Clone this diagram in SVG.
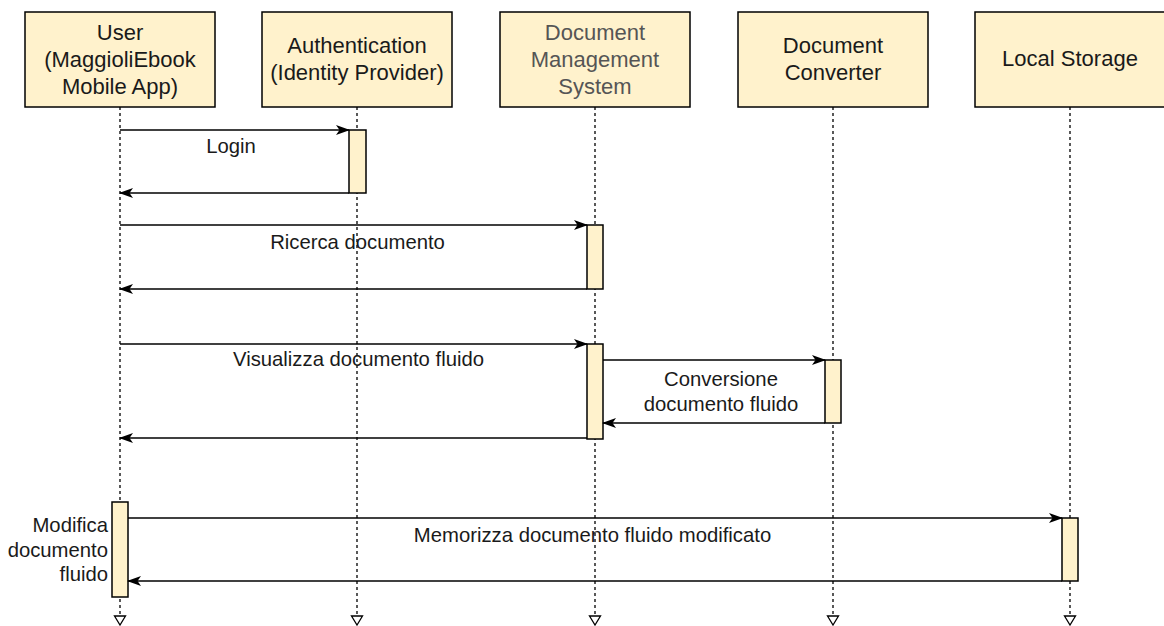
<svg xmlns="http://www.w3.org/2000/svg" width="1164" height="626" viewBox="0 0 1164 626">
  <defs>
    <style>
      .box { fill: #fff2cc; stroke: #000; stroke-width: 1.5; }
      .act { fill: #fff2cc; stroke: #000; stroke-width: 1.5; }
      .life { stroke: #000; stroke-width: 1.3; stroke-dasharray: 3 3; fill: none; }
      .msg { stroke: #000; stroke-width: 1.5; fill: none; marker-end: url(#head); }
      .end { fill: #fff; stroke: #000; stroke-width: 1.3; }
      .title { font-family: "Liberation Sans", Arial, Helvetica, sans-serif; font-size: 22px; fill: #1a1a1a; text-anchor: middle; }
      .muted { fill: #555; }
      .lbl { font-family: "Liberation Sans", Arial, Helvetica, sans-serif; font-size: 20.3px; fill: #1a1a1a; text-anchor: middle; }
      .lbl-r { text-anchor: end; }
    </style>
    <marker id="head" viewBox="0 0 14 10" refX="13" refY="5" markerWidth="14" markerHeight="10" markerUnits="userSpaceOnUse" orient="auto">
      <path d="M0,0 L14,5 L0,10 L3.5,5 Z" fill="#000"/>
    </marker>
  </defs>

  <!-- lifelines -->
  <g id="lifelines">
    <line class="life" x1="120" y1="107" x2="120" y2="616"/>
    <line class="life" x1="357" y1="107" x2="357" y2="616"/>
    <line class="life" x1="595" y1="107" x2="595" y2="616"/>
    <line class="life" x1="833" y1="107" x2="833" y2="616"/>
    <line class="life" x1="1070" y1="107" x2="1070" y2="616"/>
    <path class="end" d="M114.5,616 L125.5,616 L120,625 Z"/>
    <path class="end" d="M351.5,616 L362.5,616 L357,625 Z"/>
    <path class="end" d="M589.5,616 L600.5,616 L595,625 Z"/>
    <path class="end" d="M827.5,616 L838.5,616 L833,625 Z"/>
    <path class="end" d="M1064.5,616 L1075.5,616 L1070,625 Z"/>
  </g>

  <!-- participants -->
  <g id="user">
    <rect class="box" x="25" y="12" width="190" height="95"/>
    <text class="title" x="120" y="40">User</text>
    <text class="title" x="120" y="67">(MaggioliEbook</text>
    <text class="title" x="120" y="94">Mobile App)</text>
  </g>
  <g id="auth">
    <rect class="box" x="262" y="12" width="190" height="95"/>
    <text class="title" x="357" y="53">Authentication</text>
    <text class="title" x="357" y="80">(Identity Provider)</text>
  </g>
  <g id="dms">
    <rect class="box" x="500" y="12" width="190" height="95"/>
    <text class="title muted" x="595" y="40">Document</text>
    <text class="title muted" x="595" y="67">Management</text>
    <text class="title muted" x="595" y="94">System</text>
  </g>
  <g id="converter">
    <rect class="box" x="738" y="12" width="190" height="95"/>
    <text class="title" x="833" y="53">Document</text>
    <text class="title" x="833" y="80">Converter</text>
  </g>
  <g id="storage">
    <rect class="box" x="975" y="12" width="190" height="95"/>
    <text class="title" x="1070" y="66">Local Storage</text>
  </g>

  <!-- activation bars -->
  <g id="activations">
    <rect class="act" x="349" y="130" width="17" height="63"/>
    <rect class="act" x="587" y="225" width="16" height="64"/>
    <rect class="act" x="587" y="344" width="16" height="95"/>
    <rect class="act" x="825" y="360" width="16" height="63"/>
    <rect class="act" x="112" y="502" width="16" height="95"/>
    <rect class="act" x="1062" y="518" width="16" height="63"/>
  </g>

  <!-- messages -->
  <g id="connectors">
    <line class="msg" x1="120" y1="130" x2="349" y2="130"/>
    <line class="msg" x1="349" y1="193" x2="120" y2="193"/>
    <line class="msg" x1="120" y1="225" x2="587" y2="225"/>
    <line class="msg" x1="587" y1="289" x2="120" y2="289"/>
    <line class="msg" x1="120" y1="344" x2="587" y2="344"/>
    <line class="msg" x1="603" y1="360" x2="825" y2="360"/>
    <line class="msg" x1="825" y1="423" x2="603" y2="423"/>
    <line class="msg" x1="587" y1="438" x2="120" y2="438"/>
    <line class="msg" x1="128" y1="518" x2="1062" y2="518"/>
    <line class="msg" x1="1062" y1="581" x2="128" y2="581"/>
  </g>

  <!-- message labels -->
  <g id="labels">
    <text class="lbl" x="231" y="153">Login</text>
    <text class="lbl" x="357.5" y="249">Ricerca documento</text>
    <text class="lbl" x="358.5" y="366">Visualizza documento fluido</text>
    <text class="lbl" x="721" y="386">Conversione</text>
    <text class="lbl" x="721" y="411">documento fluido</text>
    <text class="lbl" x="592.5" y="542">Memorizza documento fluido modificato</text>
    <text class="lbl lbl-r" x="108" y="532">Modifica</text>
    <text class="lbl lbl-r" x="108" y="557">documento</text>
    <text class="lbl lbl-r" x="108" y="581">fluido</text>
  </g>
</svg>
